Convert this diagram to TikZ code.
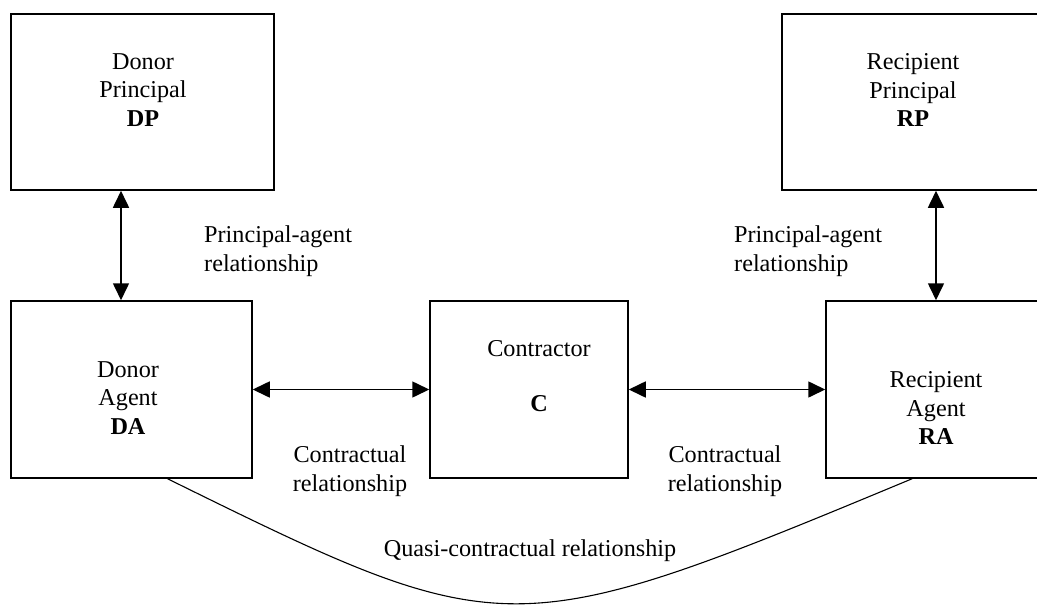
\documentclass[tikz,border=0pt]{standalone}
\usepackage{fontspec}
\setmainfont{Liberation Serif}
\usetikzlibrary{arrows.meta}

\begin{document}
\begin{tikzpicture}[x=1pt, y=-1pt, inner sep=0pt,
                    box/.style={rectangle, draw=black, line width=1.5pt, fill=white},
                    biarrow/.style={{Triangle[length=17pt,width=16pt]}-{Triangle[length=17pt,width=16pt]}, line width=1.6pt},
                    txt/.style={align=center, text=black, font=\fontsize{24.2}{28.5}\selectfont}]
                            \path[use as bounding box, clip] (0, 0) rectangle (1037, 605);

                            \node (DP)[box, minimum width=263pt, minimum height=176pt] at (142.5, 102) {};
                            \node (RP)[box, minimum width=263pt, minimum height=176pt] at (913.5, 102) {};
                            \node (DA)[box, minimum width=241pt, minimum height=177pt] at (131.5, 389.5) {};
                            \node (C)[box, minimum width=198pt, minimum height=177pt] at (529, 389.5) {};
                            \node (RA)[box, minimum width=220pt, minimum height=177pt] at (936, 389.5) {};

                            \node (DPtext)[txt] at (143, 90) {Donor\\Principal\\\textbf{DP}};
                            \node (RPtext)[txt] at (913, 90) {Recipient\\Principal\\\textbf{RP}};
                            \node (DAtext)[txt] at (128, 398) {Donor\\Agent\\\textbf{DA}};
                            \node (Ctext)[txt] at (539, 376) {Contractor\\[27pt]\textbf{C}};
                            \node (RAtext)[txt] at (936, 408) {Recipient\\Agent\\\textbf{RA}};

                            \node (PAleft)[txt, align=left, anchor=west] at (204, 251) {Principal-agent\\relationship};
                            \node (PAright)[txt, align=left, anchor=west] at (734, 251) {Principal-agent\\relationship};
                            \node (CRleft)[txt] at (350, 471) {Contractual\\relationship};
                            \node (CRright)[txt] at (725, 471) {Contractual\\relationship};
                            \node (QC)[txt] at (530, 551) {Quasi-contractual relationship};

                            \draw [biarrow] ([xshift=-21.5pt]DP.south) -- ([xshift=-10.5pt]DA.north);
                            \draw [biarrow] (RP.south -| RA.north) -- (RA.north);
                            \draw [biarrow] (DA.east) -- (C.west);
                            \draw [biarrow] (C.east) -- (RA.west);
                            \draw [line width=1.1pt] (DA.-68) .. controls (505, 645) and (510, 646) .. (RA.-105);
                        \end{tikzpicture}
\end{document}
